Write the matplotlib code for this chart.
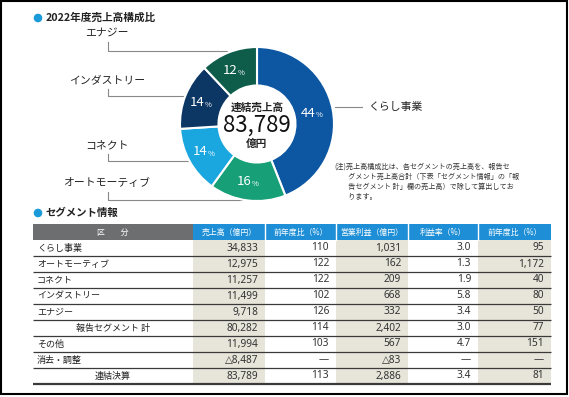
import numpy as np
import matplotlib
matplotlib.use("Agg")
import matplotlib.pyplot as plt
from matplotlib.patches import Rectangle, Circle

plt.rcParams['font.family'] = ['Noto Sans CJK JP', 'DejaVu Sans']

# --- data ---
donut_labels = ['くらし事業', 'オートモーティブ', 'コネクト', 'インダストリー', 'エナジー']
donut_pct = [44, 16, 14, 14, 12]
donut_colors = ['#0d56a2', '#17a078', '#1aa6df', '#0c3663', '#0e5d4b']

header = ['区　　分', '売上高（億円）', '前年度比（%）', '営業利益（億円）', '利益率（%）', '前年度比（%）']
segments = ['くらし事業', 'オートモーティブ', 'コネクト', 'インダストリー', 'エナジー',
            '報告セグメント 計', 'その他', '消去・調整', '連結決算']
sales = ['34,833', '12,975', '11,257', '11,499', '9,718', '80,282', '11,994', '△8,487', '83,789']
sales_yoy = ['110', '122', '122', '102', '126', '114', '103', '—', '113']
op_income = ['1,031', '162', '209', '668', '332', '2,402', '567', '△83', '2,886']
margin = ['3.0', '1.3', '1.9', '5.8', '3.4', '3.0', '4.7', '—', '3.4']
op_yoy = ['95', '1,172', '40', '80', '50', '77', '151', '—', '81']

W, H = 569, 397
fig = plt.figure(figsize=(W / 100, H / 100), dpi=100)
ax = fig.add_axes([0, 0, 1, 1])
ax.set_xlim(0, W)
ax.set_ylim(H, 0)
ax.axis('off')

# frame
ax.add_patch(Rectangle((0.8, 1), 566, 393, fill=False, ec='black', lw=1.5))

bullet = '#1a9ad8'
txt = '#222222'
num_font = ['Noto Sans', 'DejaVu Sans']

# --- section titles ---
ax.add_patch(Circle((38, 18), 3.6, color=bullet))
ax.text(46, 18, '2022年度売上高構成比', fontsize=7.7, weight='bold', va='center', color=txt)
ax.add_patch(Circle((38, 213), 3.6, color=bullet))
ax.text(46, 213, 'セグメント情報', fontsize=7.5, weight='bold', va='center', color=txt)

# --- donut ---
cx, cy, r = 257, 124, 77
pad = 80
pax = fig.add_axes([(cx - pad) / W, 1 - (cy + pad) / H, 2 * pad / W, 2 * pad / H])
pax.pie(donut_pct, colors=donut_colors, startangle=90, counterclock=False, radius=1,
        wedgeprops=dict(width=0.5, edgecolor='white', linewidth=1.5))
pax.set_xlim(-pad / r, pad / r)
pax.set_ylim(-pad / r, pad / r)
pax.axis('off')

start = 90
for p in donut_pct:
    mid = np.deg2rad(start - p * 3.6 / 2)
    x, y = 0.75 * np.cos(mid), 0.75 * np.sin(mid)
    pax.text(x + 0.02, y, str(p), fontsize=9.5, color='white', ha='right', va='center')
    pax.text(x + 0.02, y - 0.03, '%', fontsize=5.5, color='white', ha='left', va='center')
    start -= p * 3.6

ax.text(cx, 108, '連結売上高', fontsize=7.7, weight='bold', ha='center', va='center', color=txt)
ax.text(cx, 125, '83,789', fontsize=16, ha='center', va='center', color='#111111')
ax.text(cx, 144, '億円', fontsize=7.7, weight='bold', ha='center', va='center', color=txt)

# leader lines and labels
line_c = '#888888'
left_labels = [('エナジー', 33, 51, 227), ('インダストリー', 80, 96, 186),
               ('コネクト', 145, 161, 188), ('オートモーティブ', 183, 200, 242)]
for lab, ty, ly, lx in left_labels:
    ax.text(107, ty, lab, fontsize=7.8, ha='center', va='center', color=txt)
    ax.plot([108, 108, lx], [ty + 9, ly, ly], color=line_c, lw=0.8)
ax.plot([335, 362], [107, 107], color=line_c, lw=0.8)
ax.text(368, 107, 'くらし事業', fontsize=7.8, ha='left', va='center', color=txt)

note = ('(注)売上高構成比は、各セグメントの売上高を、報告セ\n'
        '　　グメント売上高合計（下表「セグメント情報」の「報\n'
        '　　告セグメント 計」欄の売上高）で除して算出してお\n'
        '　　ります。')
ax.text(334, 163, note, fontsize=5.1, ha='left', va='top', color='#333333', linespacing=1.35)

# --- table ---
cols = [33, 193, 265, 336, 408, 478, 551]
top, hh, rh = 224, 16, 16
shaded = [1, 3, 5]
n = len(segments)

for j in range(6):
    ax.add_patch(Rectangle((cols[j], top), cols[j + 1] - cols[j], hh,
                           color='#6d6e70' if j == 0 else '#1e8fd6', lw=0))
    if j in shaded:
        ax.add_patch(Rectangle((cols[j], top + hh), cols[j + 1] - cols[j], rh * n,
                               color='#e7e4da', lw=0))
    ax.text((cols[j] + cols[j + 1]) / 2, top + hh / 2, header[j], fontsize=5.7,
            color='white', ha='center', va='center')
for j in range(2, 6):
    ax.plot([cols[j], cols[j]], [top, top + hh], color='white', lw=1)

columns = [sales, sales_yoy, op_income, margin, op_yoy]
for i in range(n):
    yc = top + hh + rh * i + rh / 2
    if segments[i] in ('報告セグメント 計', '連結決算'):
        ax.text(113, yc, segments[i], fontsize=6.5, ha='center', va='center', color=txt)
    else:
        ax.text(37, yc, segments[i], fontsize=6.5, ha='left', va='center', color=txt)
    for j, col in enumerate(columns):
        ax.text(cols[j + 2] - 7, yc, col[i], fontsize=7.3, ha='right', va='center',
                color='#333333', family=num_font)
    yl = top + hh + rh * (i + 1)
    ax.plot([cols[0], cols[-1]], [yl, yl], color='#3a3a3a',
            lw=1.6 if i == n - 1 else 0.9, solid_capstyle='butt')

fig.savefig('out.png', dpi=100)
